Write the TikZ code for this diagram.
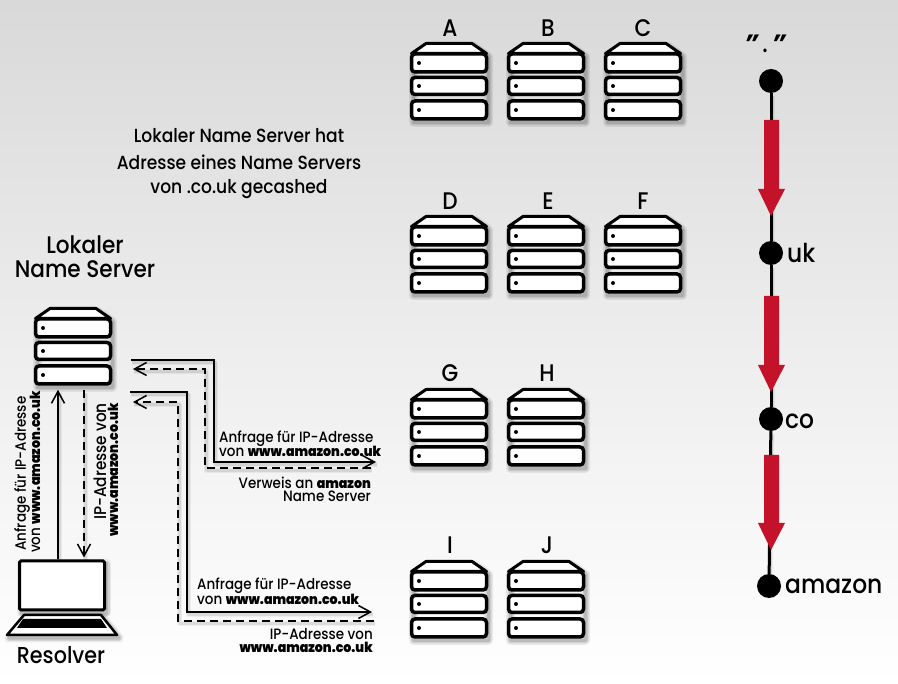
\documentclass[tikz,border=0pt]{standalone}
\usepackage{fontspec}
\setmainfont{Poppins Medium}[FakeStretch=0.9]
\usetikzlibrary{arrows.meta,calc}
\newcommand{\fs}[1]{\fontsize{#1}{#1}\selectfont}
\newcommand{\bw}[1]{{\fs{14}\fontspec{Poppins Black}[FakeStretch=0.9]#1}}
\definecolor{redarrowc}{HTML}{C4122A}
\tikzset{
  softshadow/.style={
    preaction={draw=black,draw opacity=.07,line width=9pt,line join=round,arrows=-,solid,transform canvas={xshift=2pt,yshift=-3pt}},
    preaction={draw=black,draw opacity=.09,line width=6pt,line join=round,arrows=-,solid,transform canvas={xshift=2pt,yshift=-3pt}},
    preaction={draw=black,draw opacity=.12,line width=3.5pt,line join=round,arrows=-,solid,transform canvas={xshift=2pt,yshift=-3pt}}},
  wireshadow/.style={
    preaction={draw=black,draw opacity=.05,line width=5pt,line join=round,arrows=-,transform canvas={xshift=1pt,yshift=-3pt}},
    preaction={draw=black,draw opacity=.08,line width=3pt,line join=round,arrows=-,transform canvas={xshift=1pt,yshift=-3pt}}},
  wire/.style={draw=black,line width=1.5pt,wireshadow},
  wiredash/.style={draw=black,line width=1.5pt,dash pattern=on 8pt off 5pt,wireshadow},
  headed/.style={-{Straight Barb[length=12pt,width=13pt,line width=1.5pt]}},
  sbox/.style={draw=black,fill=white,line width=3.5pt,rounded corners=3.5pt,minimum width=75pt,minimum height=#1,inner sep=0pt,outer sep=1.75pt},
  title/.style={text=black,inner sep=0pt,align=center},
  small/.style={text=black,inner sep=0pt,font=\fs{15}},
  big/.style={text=black,inner sep=0pt},
  dotn/.style={circle,fill=black,minimum size=24pt,inner sep=0pt},
  server/.pic={
    \path[softshadow] (1.5,11.5) -- (16,1.5) -- (62,1.5) -- (76.5,11.5) -- (76.5,77.5) -- (1.5,77.5) -- cycle;
    \path[draw=black,fill=white,line width=3pt,line join=round] (1.5,11.5) -- (16,1.5) -- (62,1.5) -- (76.5,11.5) -- cycle;
    \node[sbox=18pt] (-b1) at (39,21) {};
    \node[sbox=17pt] (-b2) at (39,44) {};
    \node[sbox=18pt] (-b3) at (39,68) {};
    \fill (9,21) circle (2pt) (9,44) circle (2pt) (9,68) circle (2pt);
  }
}
\begin{document}
\begin{tikzpicture}[x=1pt,y=-1pt]
\useasboundingbox (0,0) rectangle (898,684);
\shade[top color=black!15,bottom color=white,middle color=black!7] (0,0) rectangle (898,684);

% server groups
\pic (A) at (410,42) {server};
\pic (B) at (507,42) {server};
\pic (C) at (604,42) {server};
\pic (D) at (410,215) {server};
\pic (E) at (507,215) {server};
\pic (F) at (604,215) {server};
\pic (G) at (410,388) {server};
\pic (H) at (507,388) {server};
\pic (I) at (410,560) {server};
\pic (J) at (507,560) {server};
\pic (L) at (34,307) {server};

\foreach \n/\x/\y in {A/450/28,B/548/28,C/643/28,D/450/201,E/548/201,F/643/201,G/450/373,H/547/373,I/450/545,J/547/545}
  \node[big,font=\fs{24}] (lab\n) at (\x,\y) {\n};

\node[title,font=\fs{19}] (note1) at (239,136) {Lokaler Name Server hat};
\node[title,font=\fs{19}] (note2) at (239,162) {Adresse eines Name Servers};
\node[title,font=\fs{19}] (note3) at (239,189) {von .co.uk gecashed};
\node[title,font=\fs{24}] (lokal) at (85,245) {Lokaler};
\node[title,font=\fs{24}] (lokalb) at (85,269) {Name Server};
\node[title,font=\fs{23}] (resolver) at (61,655) {Resolver};

% laptop
\path[softshadow] (19.5,561) rectangle (104.5,610);
\node[draw=black,fill=white,line width=3pt,rounded corners=1.5pt,minimum width=85pt,minimum height=49pt,inner sep=0pt,outer sep=1.5pt] (screen) at (62,585.5) {};
\draw[softshadow,draw=black,fill=white,line width=2.5pt,line join=round] (24,615) -- (101,615) -- (117,635) -- (7,635) -- cycle;
\fill[black] (23,619) -- (101,619) -- (107,628) -- (17,628) -- cycle;

% anchors
\coordinate (sx) at (58,0);
\coordinate (dx) at (84,0);
\coordinate (a1) at (131,360);
\coordinate (a2) at (214,360);
\coordinate (a3) at (214,462);
\coordinate (a4) at (376,462);
\coordinate (b1) at (371,468);
\coordinate (b2) at (205,468);
\coordinate (b3) at (205,369);
\coordinate (b4) at (133,369);
\coordinate (c1) at (130,392);
\coordinate (c2) at (187,392);
\coordinate (c3) at (187,612);
\coordinate (c4) at (372,612);
\coordinate (d1) at (374,621);
\coordinate (d2) at (178,621);
\coordinate (d3) at (178,402);
\coordinate (d4) at (133,402);

% connectors
\draw[wire,headed] (screen.north -| sx) -- ($(L-b3.south -| sx)+(0,4)$);
\draw[wiredash,headed] ($(L-b3.south -| dx)+(0,4)$) -- ($(screen.north -| dx)+(0,-2)$);
\draw[wire,headed] (a1) -- (a2) -- (a3) -- (a4);
\draw[wiredash,headed] (b1) -- (b2) -- (b3) -- (b4);
\draw[wire,headed] (c1) -- (c2) -- (c3) -- (c4);
\draw[wiredash,headed] (d1) -- (d2) -- (d3) -- (d4);

% small labels
\node[small,anchor=west] (t1) at (219,439) {Anfrage für IP-Adresse};
\node[small,anchor=west] (t2) at (219,451) {von \bw{www.amazon.co.uk}};
\node[small,anchor=east] (t3) at (371,483) {Verweis an \bw{amazon}};
\node[small,anchor=east] (t4) at (371,496) {Name Server};
\node[small,anchor=west] (t5) at (197,586) {Anfrage für IP-Adresse};
\node[small,anchor=west] (t6) at (197,599) {von \bw{www.amazon.co.uk}};
\node[small,anchor=east] (t7) at (373,634) {IP-Adresse von};
\node[small,anchor=east] (t8) at (373,647) {\bw{www.amazon.co.uk}};
\node[small,rotate=90,anchor=west] (t9) at (22,551) {Anfrage für IP-Adresse};
\node[small,rotate=90,anchor=west] (t10) at (35,553) {von \bw{www.amazon.co.uk}};
\node[small,rotate=90,anchor=east,font=\fs{17}] (t11) at (100,403) {IP-Adresse von};
\node[small,rotate=90,anchor=east] (t12) at (113,403) {\bw{www.amazon.co.uk}};

% hierarchy
\node[dotn] (root) at (771,81) {};
\node[dotn] (uk) at (771,253) {};
\node[dotn] (co) at (771,419) {};
\node[dotn] (am) at (769,586) {};
\draw[line width=3pt,wireshadow] (root) -- (uk);
\draw[line width=3pt,wireshadow] (uk) -- (co);
\draw[line width=3pt,wireshadow] (co) -- (am);
\foreach \a/\b/\c in {120/189/216,296/365/392,455/523/550}
  \fill[redarrowc] (764,\a) -- (779,\a) -- (779,\b) -- (785,\b) -- (771,\c) -- (758,\b) -- (764,\b) -- cycle;
\node[title,font=\fs{25},anchor=center] (rootl) at (765,44) {{\fontspec{Poppins Bold}\itshape ”}\,.\,{\fontspec{Poppins Bold}\itshape ”}};
\node[big,anchor=west,font=\fs{26}] (ukl) at (787,253) {uk};
\node[big,anchor=west,font=\fs{26}] (col) at (785,421) {co};
\node[big,anchor=west,font=\fs{26}] (aml) at (785,586) {amazon};
\end{tikzpicture}
\end{document}
